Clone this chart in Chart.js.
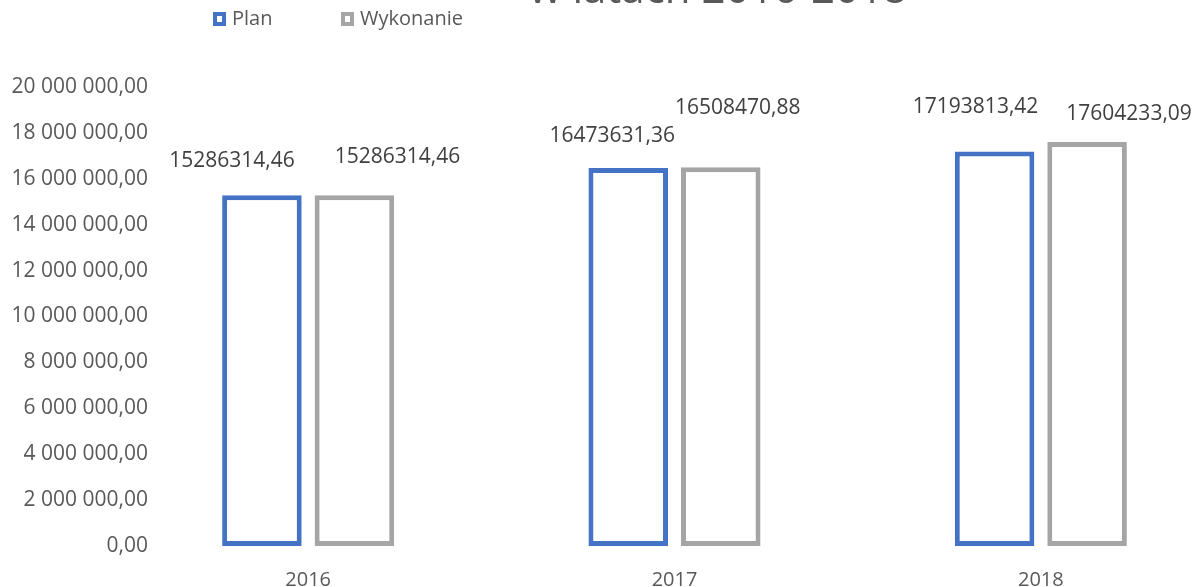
<!DOCTYPE html>
<html>
<head>
  <meta charset="UTF-8">
  <title>Plan i wykonanie w latach 2016-2018</title>
  <script src="https://cdn.jsdelivr.net/npm/chart.js"></script>
  <style>
    html, body { margin: 0; padding: 0; background: #fff; overflow: hidden; }
    #wrap { width: 1230px; height: 587px; }
  </style>
</head>
<body>
  <div id="wrap">
    <canvas id="budgetChart" width="1230" height="587"></canvas>
  </div>

  <script>
    // data
    const years = ['2016', '2017', '2018'];
    const planValues = [15286314.46, 16473631.36, 17193813.42];
    const wykonanieValues = [15286314.46, 16508470.88, 17604233.09];
    const seriesNames = ['Plan', 'Wykonanie'];
    const titleText = 'w latach 2016-2018';

    // hand-placed value labels (dx, dy from bar top centre), like in the original
    const labelOffsets = [
      [[-30, -34], [-16, -32], [-19, -44]],
      [[43, -38], [17, -59], [42, -28]]
    ];

    const BLUE = '#4472C4';
    const GREY = '#A5A5A5';
    const TEXT = '#595959';
    const FONT = "'Open Sans', sans-serif";

    function fmtTick(v) {
      return Math.round(v).toString().replace(/\B(?=(\d{3})+(?!\d))/g, ' ') + ',00';
    }
    function fmtValue(v) {
      return v.toFixed(2).replace('.', ',');
    }

    // title (only its lower edge shows in the reference) + legend in the top left
    const headerPlugin = {
      id: 'header',
      afterDraw(chart) {
        const ctx = chart.ctx;
        ctx.save();
        ctx.fillStyle = TEXT;
        ctx.font = '42px ' + FONT;
        ctx.textAlign = 'center';
        ctx.textBaseline = 'alphabetic';
        ctx.fillText(titleText, 718, 3);

        const legendX = [213, 341];
        ctx.font = '20px ' + FONT;
        ctx.textAlign = 'left';
        ctx.textBaseline = 'middle';
        chart.data.datasets.forEach((ds, i) => {
          const x = legendX[i];
          ctx.fillStyle = ds.borderColor;
          ctx.fillRect(x, 12, 13, 14);
          ctx.fillStyle = '#fff';
          ctx.fillRect(x + 4, 16, 5, 6);
          ctx.fillStyle = TEXT;
          ctx.fillText(ds.label, x + 19, 19);
        });
        ctx.restore();
      }
    };

    // y tick labels reach past the axis box in the original, so they are drawn here
    const yLabelPlugin = {
      id: 'yLabels',
      afterDraw(chart) {
        const scale = chart.scales.y;
        const ctx = chart.ctx;
        ctx.save();
        ctx.fillStyle = TEXT;
        ctx.font = '21px ' + FONT;
        ctx.textAlign = 'right';
        ctx.textBaseline = 'middle';
        scale.ticks.forEach(t => {
          ctx.fillText(fmtTick(t.value), 148, scale.getPixelForValue(t.value));
        });
        ctx.restore();
      }
    };

    const valueLabelPlugin = {
      id: 'valueLabels',
      afterDatasetsDraw(chart) {
        const ctx = chart.ctx;
        ctx.save();
        ctx.fillStyle = '#404040';
        ctx.font = '21px ' + FONT;
        ctx.textAlign = 'center';
        ctx.textBaseline = 'middle';
        chart.data.datasets.forEach((ds, di) => {
          chart.getDatasetMeta(di).data.forEach((bar, i) => {
            const off = labelOffsets[di][i];
            ctx.fillText(fmtValue(ds.data[i]), bar.x + off[0], bar.y + off[1]);
          });
        });
        ctx.restore();
      }
    };

    const ctx = document.getElementById('budgetChart').getContext('2d');
    new Chart(ctx, {
      type: 'bar',
      data: {
        labels: years,
        datasets: [
          {
            label: seriesNames[0],
            data: planValues,
            backgroundColor: '#ffffff',
            borderColor: BLUE,
            borderWidth: 5,
            borderSkipped: false
          },
          {
            label: seriesNames[1],
            data: wykonanieValues,
            backgroundColor: '#ffffff',
            borderColor: GREY,
            borderWidth: 5,
            borderSkipped: false
          }
        ]
      },
      options: {
        responsive: false,
        animation: false,
        devicePixelRatio: 1,
        categoryPercentage: 0.505,
        barPercentage: 0.86,
        layout: { padding: { top: 87, right: 6, bottom: 0, left: 0 } },
        plugins: {
          legend: { display: false },
          title: { display: false },
          tooltip: { enabled: false }
        },
        scales: {
          x: {
            grid: { display: false },
            border: { display: false },
            ticks: { color: TEXT, font: { family: FONT, size: 20 }, padding: 14 },
            afterFit(scale) { scale.height = 41; }
          },
          y: {
            min: 0,
            max: 20000000,
            grid: { display: false },
            border: { display: false },
            ticks: { stepSize: 2000000, display: false },
            afterFit(scale) { scale.width = 125; }
          }
        }
      },
      plugins: [headerPlugin, yLabelPlugin, valueLabelPlugin]
    });
  </script>
</body>
</html>
